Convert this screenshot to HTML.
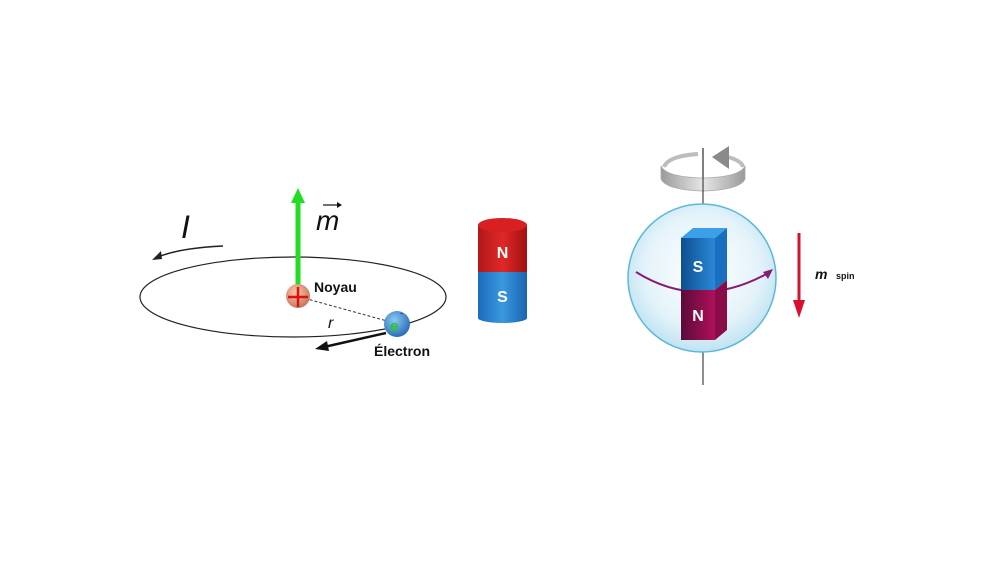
<!DOCTYPE html>
<html><head><meta charset="utf-8"><style>
html,body{margin:0;padding:0;background:#fff;width:1000px;height:562px;overflow:hidden}
</style></head><body>
<svg width="1000" height="562" viewBox="0 0 1000 562" xmlns="http://www.w3.org/2000/svg" font-family="Liberation Sans, sans-serif">
<defs>
<radialGradient id="nuc" cx="40%" cy="35%" r="65%"><stop offset="0" stop-color="#f8c8a8"/><stop offset="1" stop-color="#c87860"/></radialGradient>
<radialGradient id="ele" cx="40%" cy="35%" r="65%"><stop offset="0" stop-color="#8cc8f0"/><stop offset="1" stop-color="#2a70b8"/></radialGradient>
<linearGradient id="red" x1="0" x2="1"><stop offset="0" stop-color="#b01818"/><stop offset=".5" stop-color="#e02828"/><stop offset="1" stop-color="#a01010"/></linearGradient>
<linearGradient id="blu" x1="0" x2="1"><stop offset="0" stop-color="#1c6cb8"/><stop offset=".5" stop-color="#3a98e0"/><stop offset="1" stop-color="#1a64b0"/></linearGradient>
<radialGradient id="sph" cx="50%" cy="45%" r="55%"><stop offset="0" stop-color="#ffffff"/><stop offset=".7" stop-color="#e4f3fa"/><stop offset="1" stop-color="#bfe3f2"/></radialGradient>
<linearGradient id="sf" x1="0" x2="1"><stop offset="0" stop-color="#0e4f90"/><stop offset="1" stop-color="#2a88d8"/></linearGradient>
<linearGradient id="nf" x1="0" x2="1"><stop offset="0" stop-color="#5a0a3a"/><stop offset="1" stop-color="#b0105a"/></linearGradient>
<linearGradient id="ring" x1="0" x2="1"><stop offset="0" stop-color="#9a9a9a"/><stop offset=".5" stop-color="#e6e6e6"/><stop offset="1" stop-color="#9a9a9a"/></linearGradient>
</defs>
<!-- orbit -->
<ellipse cx="293" cy="297" rx="153" ry="40" fill="none" stroke="#222" stroke-width="1.2"/>
<!-- I arrow -->
<path d="M223 246 Q180 248 158 257" fill="none" stroke="#222" stroke-width="1.5"/>
<polygon points="152,260 161,251 162,259" fill="#222"/>
<text x="181" y="238" font-size="32" font-style="italic" fill="#111">I</text>
<!-- green arrow -->
<rect x="295.5" y="200" width="5" height="90" fill="#22dd22"/>
<polygon points="298,188 291,203 305,203" fill="#22dd22"/>
<text x="316" y="230" font-size="28" font-style="italic" fill="#111">m</text>
<path d="M323 205 L339 205" stroke="#111" stroke-width="1.2"/><polygon points="342,205 337,202 337,208" fill="#111"/>
<!-- dashed -->
<line x1="300" y1="297" x2="398" y2="324" stroke="#333" stroke-width="1" stroke-dasharray="3,2"/>
<!-- nucleus -->
<circle cx="298" cy="296" r="12" fill="url(#nuc)"/>
<path d="M288 297 H308 M298 287 V307" stroke="#e01010" stroke-width="2.5"/>
<text x="314" y="292" font-size="14" font-weight="bold" fill="#111">Noyau</text>
<!-- electron -->
<circle cx="397" cy="324" r="13" fill="url(#ele)"/>
<text x="390" y="331" font-size="15" font-weight="bold" fill="#22cc22">e</text>
<text x="400" y="316" font-size="9" fill="#222">-</text>
<text x="328" y="328" font-size="16" font-style="italic" fill="#111">r</text>
<line x1="386" y1="333" x2="324" y2="347" stroke="#111" stroke-width="2.5"/>
<polygon points="315,349 327,341 329,351" fill="#111"/>
<text x="374" y="356" font-size="14" font-weight="bold" fill="#111">Électron</text>
<!-- cylinder magnet -->
<rect x="478" y="272" width="49" height="46" fill="url(#blu)"/>
<ellipse cx="502.5" cy="318" rx="24.5" ry="5" fill="url(#blu)"/>
<rect x="478" y="225" width="49" height="47" fill="url(#red)"/>
<ellipse cx="502.5" cy="225" rx="24.5" ry="7" fill="#d82020"/>
<text x="502.5" y="258" font-size="16" font-weight="bold" fill="#fff" text-anchor="middle">N</text>
<text x="502.5" y="302" font-size="16" font-weight="bold" fill="#fff" text-anchor="middle">S</text>
<!-- axis -->
<line x1="703" y1="148" x2="703" y2="205" stroke="#444" stroke-width="1.2"/>
<line x1="703" y1="352" x2="703" y2="385" stroke="#444" stroke-width="1.2"/>
<!-- rotation ring -->
<path d="M664 167 Q668 156 698 154" fill="none" stroke="#bdbdbd" stroke-width="4"/>
<path d="M728 157 Q742 161 743 167" fill="none" stroke="#bdbdbd" stroke-width="4"/>
<path d="M661 166 Q666 177 703 178 Q740 177 745 166 L745 179 Q740 190 703 191 Q666 190 661 179 Z" fill="url(#ring)" stroke="#a8a8a8" stroke-width="0.8"/>
<polygon points="712,157 729,146 729,169" fill="#8a8a8a"/>
<line x1="703" y1="148" x2="703" y2="192" stroke="#444" stroke-width="1.2"/>
<!-- sphere -->
<circle cx="702" cy="278" r="74" fill="url(#sph)" stroke="#5cb8d8" stroke-width="1.5"/>
<!-- equator arrow -->
<path d="M636 272 Q700 312 770 272" fill="none" stroke="#8a1a78" stroke-width="2"/>
<polygon points="773,269 763,272 768,279" fill="#8a1a78"/>
<!-- bar magnet -->
<polygon points="681,238 693,228 727,228 715,238" fill="#3aa0e8"/>
<polygon points="715,238 727,228 727,280 715,290" fill="#1a70c0"/>
<polygon points="715,290 727,280 727,330 715,340" fill="#8a0c48"/>
<rect x="681" y="238" width="34" height="52" fill="url(#sf)"/>
<rect x="681" y="290" width="34" height="50" fill="url(#nf)"/>
<text x="698" y="272" font-size="16" font-weight="bold" fill="#fff" text-anchor="middle">S</text>
<text x="698" y="321" font-size="16" font-weight="bold" fill="#fff" text-anchor="middle">N</text>
<!-- red arrow -->
<rect x="797.5" y="233" width="3" height="70" fill="#d81030"/>
<polygon points="799,318 793,300 805,300" fill="#d81030"/>
<text x="815" y="279" font-size="14" font-style="italic" font-weight="bold" fill="#111">m</text>
<text x="836" y="279" font-size="9" font-weight="bold" fill="#111">spin</text>
</svg>
</body></html>
